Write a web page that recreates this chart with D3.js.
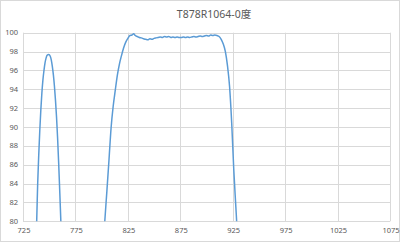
<!DOCTYPE html>
<meta charset="utf-8">
<script src="https://d3js.org/d3.v7.min.js"></script>
<div id="chart"></div>
<style>
html, body { margin: 0; padding: 0; background: #fff; }
text { font-family: "Noto Sans", "Noto Sans CJK SC", sans-serif; fill: #595959; }
</style>
<script>

// wavelength (nm) and value (%)
var wavelength = [736, 737, 738, 739, 740, 741, 742, 743, 744, 745, 746, 747, 748, 749.5, 751, 752, 753, 754, 755, 756, 757, 758, 759, 760, 761, 762, 763,
  800, 801, 803, 805, 807, 809, 811, 813, 815, 817, 819, 821, 823, 825, 827, 829, 830.5, 832, 834, 836, 838, 840, 842, 844, 846, 848, 850,
  852, 854, 856, 858, 860, 862, 864, 866, 868, 870, 872, 874, 876, 878, 880, 882, 884, 886, 888, 890, 892, 894, 896, 898, 900,
  902, 904, 906, 908, 910, 912, 914, 916, 918, 920, 922, 924, 926, 928, 929, 930];
var transmit = [72, 76.5, 79.8, 84, 87, 89.6, 91.8, 93.6, 95, 96, 96.8, 97.3, 97.6, 97.7, 97.5, 97.1, 96.4, 95.5, 94.3, 92.8, 91, 88.8, 86.2, 83.3, 80.3, 77, 73,
  null, 76, 80, 83.2, 86.5, 89.9, 92.2, 93.9, 95.5, 96.7, 97.6, 98.4, 99, 99.4, 99.7, 99.75, 99.9, 99.7, 99.6, 99.5, 99.45, 99.35, 99.3, 99.25, 99.35, 99.3, 99.4,
  99.45, 99.5, 99.55, 99.5, 99.6, 99.55, 99.6, 99.5, 99.55, 99.5, 99.55, 99.5, 99.5, 99.55, 99.5, 99.55, 99.5, 99.55, 99.6, 99.55, 99.6, 99.65, 99.6, 99.65, 99.7,
  99.65, 99.75, 99.7, 99.75, 99.7, 99.6, 99.3, 98.8, 98, 96.5, 94.3, 90.5, 85.5, 81.5, 79.5, 77];

var xTicks = [725, 775, 825, 875, 925, 975, 1025, 1075];
var yTicks = [80, 82, 84, 86, 88, 90, 92, 94, 96, 98, 100];
var title = "T878R1064-0度";

var W = 400, H = 244;
var mLeft = 23, mRight = 390, mTop = 32.7, mBottom = 221.3;

var svg = d3.select("#chart").append("svg")
    .attr("width", W)
    .attr("height", H);

svg.append("rect")
    .attr("x", 0.5).attr("y", 0.5)
    .attr("width", W - 1).attr("height", H - 3)
    .attr("fill", "#fff")
    .attr("stroke", "#d9d9d9");

var x = d3.scaleLinear().domain([725, 1075]).range([mLeft, mRight]);
var y = d3.scaleLinear().domain([80, 100]).range([mBottom, mTop]);

// grid
svg.append("g").selectAll("line")
    .data(yTicks)
    .enter().append("line")
    .attr("x1", mLeft).attr("x2", mRight)
    .attr("y1", function(d) { return Math.round(y(d)) + 0.5; })
    .attr("y2", function(d) { return Math.round(y(d)) + 0.5; })
    .attr("stroke", "#d9d9d9").attr("stroke-width", 1);

svg.append("g").selectAll("line")
    .data(xTicks)
    .enter().append("line")
    .attr("y1", mTop).attr("y2", mBottom)
    .attr("x1", function(d) { return Math.round(x(d)) + 0.5; })
    .attr("x2", function(d) { return Math.round(x(d)) + 0.5; })
    .attr("stroke", "#d9d9d9").attr("stroke-width", 1);

// tick labels
svg.append("g").selectAll("text")
    .data(yTicks)
    .enter().append("text")
    .attr("x", mLeft - 5)
    .attr("y", function(d) { return y(d) + 2.5; })
    .attr("text-anchor", "end")
    .attr("font-size", "7.5px")
    .text(function(d) { return d; });

svg.append("g").selectAll("text")
    .data(xTicks)
    .enter().append("text")
    .attr("x", function(d) { return x(d) + 1; })
    .attr("y", mBottom + 12)
    .attr("text-anchor", "middle")
    .attr("font-size", "7.5px")
    .text(function(d) { return d; });

svg.append("text")
    .attr("x", 214)
    .attr("y", 18)
    .attr("text-anchor", "middle")
    .attr("font-size", "10.5px")
    .text(title);

svg.append("clipPath")
    .attr("id", "plot-clip")
  .append("rect")
    .attr("x", mLeft).attr("y", mTop - 3)
    .attr("width", mRight - mLeft).attr("height", mBottom - mTop + 3);

var points = wavelength.map(function(w, i) { return [w, transmit[i]]; });

var line = d3.line()
    .defined(function(d) { return d[1] !== null; })
    .x(function(d) { return x(d[0]); })
    .y(function(d) { return y(d[1]); })
    .curve(d3.curveMonotoneX);

svg.append("path")
    .datum(points)
    .attr("clip-path", "url(#plot-clip)")
    .attr("fill", "none")
    .attr("stroke", "#5b9bd5")
    .attr("stroke-width", 1.5)
    .attr("d", line);

</script>
